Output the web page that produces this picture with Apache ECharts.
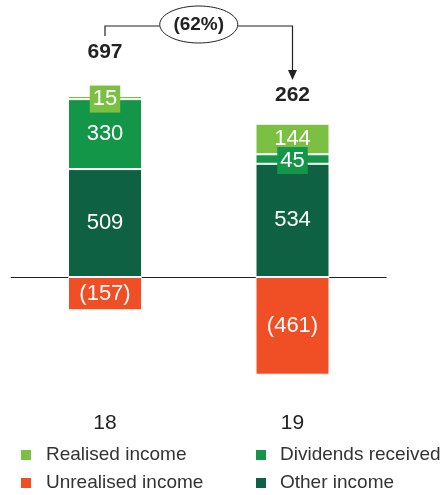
<!DOCTYPE html>
<html>
<head>
<meta charset="utf-8">
<script src="https://cdn.jsdelivr.net/npm/echarts@6/dist/echarts.min.js"></script>
<style>
  html, body { margin: 0; padding: 0; background: #fff; }
  #chart { width: 446px; height: 495px; }
</style>
</head>
<body>
<div id="chart"></div>
<script>
// Income breakdown by year
const years = ['18', '19'];
const realisedIncome = [15, 144];
const dividendsReceived = [330, 45];
const otherIncome = [509, 534];
const unrealisedIncome = [-157, -461];

const FONT = '"Liberation Sans", Arial, Helvetica, sans-serif';
const colors = {
  realised: '#7BC043',
  dividends: '#149648',
  other: '#0E6142',
  unrealised: '#F04E24'
};

const totals = years.map((_, i) =>
  realisedIncome[i] + dividendsReceived[i] + otherIncome[i] + unrealisedIncome[i]);
const change = (totals[1] - totals[0]) / totals[0];

const fmt = v => (v < 0 ? '(' + Math.abs(v) + ')' : String(v));

// Thin segments get a boxed label in the segment colour
function makeData(values, color) {
  return values.map(v => {
    const item = { value: v };
    if (Math.abs(v) < 60) {
      item.label = { backgroundColor: color, padding: [3, 3, 2, 3], offset: [0, 1.5] };
    }
    return item;
  });
}

function barSeries(name, values, color) {
  return {
    name: name,
    type: 'bar',
    stack: 'total',
    xAxisIndex: 0,
    barWidth: 74,
    data: makeData(values, color),
    itemStyle: { color: color, borderColor: '#fff', borderWidth: 1 },
    label: {
      show: true,
      position: 'inside',
      color: '#fff',
      fontFamily: FONT,
      fontSize: 22,
      formatter: p => fmt(p.value)
    },
    emphasis: { disabled: true }
  };
}

const chart = echarts.init(document.getElementById('chart'), null, { renderer: 'canvas' });

const option = {
  animation: false,
  backgroundColor: '#fff',
  grid: { left: 11.25, right: 59.75, top: 65, height: 318, containLabel: false },
  xAxis: [
    {
      type: 'category',
      data: years,
      axisLine: { onZero: true, lineStyle: { color: '#222', width: 1 } },
      axisTick: { show: false },
      axisLabel: { show: false }
    },
    {
      type: 'category',
      data: years,
      position: 'bottom',
      axisLine: { show: false, onZero: false },
      axisTick: { show: false },
      axisLabel: { color: '#222', fontFamily: FONT, fontSize: 21, margin: 30 }
    }
  ],
  yAxis: {
    type: 'value',
    min: -500,
    max: 1000,
    show: false,
    splitLine: { show: false }
  },
  legend: [
    {
      orient: 'vertical',
      left: 19,
      top: 445.5,
      padding: 0,
      itemWidth: 12,
      itemHeight: 12,
      itemGap: 9,
      icon: 'rect',
      data: ['Realised income', 'Unrealised income'],
      textStyle: { color: '#333', fontFamily: FONT, fontSize: 19, lineHeight: 19, padding: [0, 0, 0, 9] },
      selectedMode: false
    },
    {
      orient: 'vertical',
      left: 254,
      top: 445.5,
      padding: 0,
      itemWidth: 12,
      itemHeight: 12,
      itemGap: 9,
      icon: 'rect',
      data: ['Dividends received', 'Other income'],
      textStyle: { color: '#333', fontFamily: FONT, fontSize: 19, lineHeight: 19, padding: [0, 0, 0, 8] },
      selectedMode: false
    }
  ],
  series: [
    barSeries('Other income', otherIncome, colors.other),
    barSeries('Dividends received', dividendsReceived, colors.dividends),
    barSeries('Realised income', realisedIncome, colors.realised),
    barSeries('Unrealised income', unrealisedIncome, colors.unrealised)
  ]
};

chart.setOption(option);

// Totals above the bars and the year-on-year change connector
const x0 = chart.convertToPixel({ xAxisIndex: 0 }, years[0]);
const x1 = chart.convertToPixel({ xAxisIndex: 0 }, years[1]);
const totalY = [52.5, 95];
const lineY = 26;
const ellipse = { cx: (x0 + x1) / 2, cy: 24.5, rx: 39, ry: 18.5 };
const stroke = { stroke: '#222', lineWidth: 1.2, fill: null };

chart.setOption({
  graphic: [
    {
      type: 'text', x: x0, y: totalY[0],
      style: { text: String(totals[0]), fontFamily: FONT, fontSize: 21, fontWeight: 'bold', fill: '#222', align: 'center', verticalAlign: 'middle' }
    },
    {
      type: 'text', x: x1, y: totalY[1],
      style: { text: String(totals[1]), fontFamily: FONT, fontSize: 21, fontWeight: 'bold', fill: '#222', align: 'center', verticalAlign: 'middle' }
    },
    {
      type: 'polyline',
      shape: { points: [[x0, 36], [x0, lineY], [ellipse.cx - ellipse.rx, lineY]] },
      style: stroke
    },
    {
      type: 'polyline',
      shape: { points: [[ellipse.cx + ellipse.rx, lineY], [x1, lineY], [x1, 72]] },
      style: stroke
    },
    {
      type: 'polygon',
      shape: { points: [[x1 - 4.5, 70], [x1 + 4.5, 70], [x1, 80]] },
      style: { fill: '#222' }
    },
    {
      type: 'ellipse',
      shape: ellipse,
      style: { stroke: '#222', lineWidth: 1, fill: '#fff' }
    },
    {
      type: 'text', x: ellipse.cx, y: ellipse.cy,
      style: {
        text: '(' + Math.round(Math.abs(change) * 100) + '%)',
        fontFamily: FONT, fontSize: 19, fontWeight: 'bold', fill: '#222',
        align: 'center', verticalAlign: 'middle'
      }
    }
  ]
});
</script>
</body>
</html>
